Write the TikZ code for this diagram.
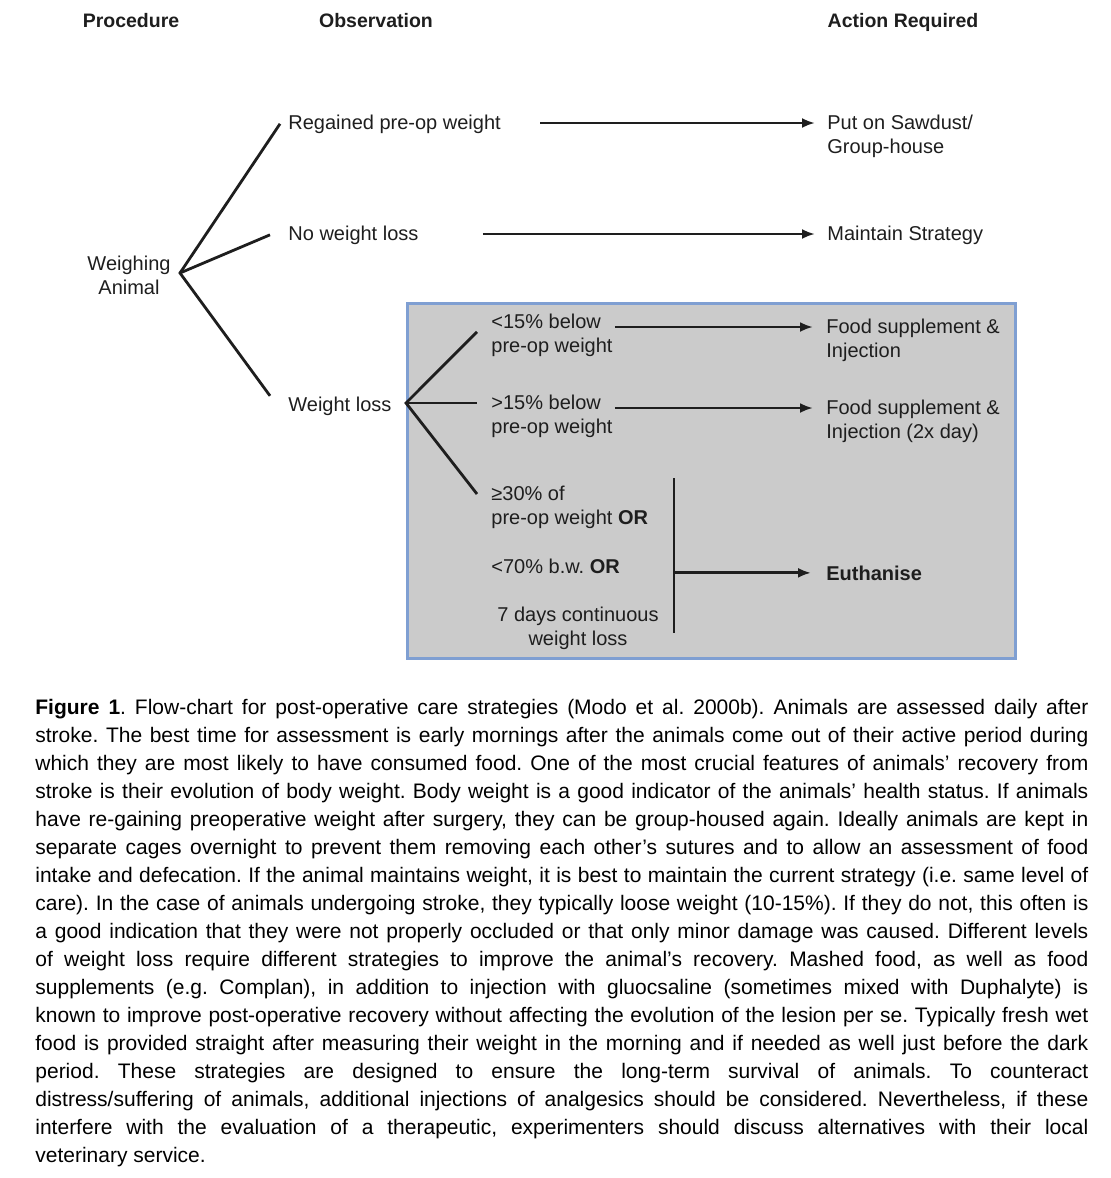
\documentclass[tikz,border=0pt]{standalone}
\usepackage{fontspec}
\setmainfont{Liberation Sans}
\usetikzlibrary{arrows.meta,positioning,calc}
\definecolor{boxgray}{HTML}{CBCBCB}
\definecolor{boxblue}{HTML}{7F9FD2}
\definecolor{ink}{HTML}{1E1E1E}
\newcommand{\capline}[1]{\hbox to \hsize{#1}}

\begin{document}
\frenchspacing
\begin{tikzpicture}[x=1pt, y=-1pt, >={Latex[length=13pt,width=10pt]}, line width=2.8pt,
  every node/.style={inner sep=0pt, text=ink, font=\fontsize{20}{24}\selectfont},
  head/.style={font=\fontsize{19.5}{24}\selectfont\bfseries, anchor=base},
  obs/.style={anchor=base west, align=left},
  link/.style={draw=ink},
  arr/.style={draw=ink, ->}]
    \useasboundingbox (0,0) rectangle (1111,1178);

    % shaded box for the weight loss cases
    \fill[black!12] (409,305) rectangle (1017,660);
    \node[draw=boxblue, line width=2.5pt, fill=boxgray, anchor=north west,
          minimum width=608pt, minimum height=355pt] (lossbox) at (406,302) {};

    \node[head] (proc) at (131,27) {Procedure};
    \node[head] (obsv) at (376,27) {Observation};
    \node[head] (act) at (903,27) {Action Required};

    % multi-line nodes sit on the baseline of their last line
    \node[align=center, anchor=base] (weigh) at (129,294) {Weighing\\Animal};

    \node[obs] (regain) at (287,129) {Regained pre-op weight};
    \node[obs] (nochange) at (287,240) {No weight loss};
    \node[obs] (loss) at (287,411) {Weight loss};

    \node[obs] (sawdust) at (826,153) {Put on Sawdust/\\Group-house};
    \node[obs] (maintain) at (826,240) {Maintain Strategy};

    \node[obs] (lt15) at (490,352) {<15\% below\\pre-op weight};
    \node[obs] (gt15) at (490,433) {>15\% below\\pre-op weight};
    \node[obs] (ge30) at (490,524) {≥30\% of\\pre-op weight \textbf{OR}};
    \node[obs] (lt70) at (490,573) {<70\% b.w. \textbf{OR}};
    \node[align=center, anchor=base] (days) at (578,645) {7 days continuous\\weight loss};

    \node[obs] (food1) at (825,357) {Food supplement \&\\Injection};
    \node[obs] (food2) at (825,438) {Food supplement \&\\Injection (2x day)};
    \node[obs, font=\fontsize{20}{24}\selectfont\bfseries] (euth) at (825,580) {Euthanise};

    % first fork
    \coordinate (fork) at (180,273);
    \draw[link] ([xshift=-7pt]regain.west) -- (fork) -- ([xshift=-17pt,yshift=10pt]loss.west);
    \draw[link] (fork) -- ([xshift=-17pt]nochange.west);

    % second fork
    \coordinate (subfork) at (406,403);
    \draw[link] ([xshift=-13pt,yshift=3pt]lt15.west) -- (subfork) -- ([xshift=-13pt,yshift=30pt]ge30.base west);
    \draw[link] (subfork) -- ([xshift=-13pt,yshift=30pt]gt15.base west);

    \draw[arr] ($(regain.base east)+(38,-6)$) -- ($(regain.base east -| sawdust.west)+(-11,-6)$);
    \draw[arr] ($(nochange.base east)+(63,-6)$) -- ($(nochange.base east -| maintain.west)+(-11,-6)$);
    \draw[arr] ($(lt15.base east)+(1,-25)$) -- ($(lt15.base east -| food1.west)+(-12,-25)$);
    \draw[arr] ($(gt15.base east)+(1,-25)$) -- ($(gt15.base east -| food2.west)+(-12,-25)$);

    \coordinate (bartop) at (674,478);
    \coordinate (barbot) at (674,633);
    \draw[link] (bartop) -- (barbot);
    \draw[arr] (euth.west -| bartop) -- ($(euth.west)+(-14,0)$);

    % caption
    \node[anchor=base west, font=\fontsize{21}{28}\selectfont, text=black] (caption) at (34,714) {\vtop{\hsize=1053pt
      \capline{\textbf{Figure 1}. Flow-chart for post-operative care strategies (Modo et al. 2000b). Animals are assessed daily after}
      \capline{stroke. The best time for assessment is early mornings after the animals come out of their active period during}
      \capline{which they are most likely to have consumed food. One of the most crucial features of animals’ recovery from}
      \capline{stroke is their evolution of body weight. Body weight is a good indicator of the animals’ health status. If animals}
      \capline{have re-gaining preoperative weight after surgery, they can be group-housed again. Ideally animals are kept in}
      \capline{separate cages overnight to prevent them removing each other’s sutures and to allow an assessment of food}
      \capline{intake and defecation. If the animal maintains weight, it is best to maintain the current strategy (i.e. same level of}
      \capline{care). In the case of animals undergoing stroke, they typically loose weight (10-15\%). If they do not, this often is}
      \capline{a good indication that they were not properly occluded or that only minor damage was caused. Different levels}
      \capline{of weight loss require different strategies to improve the animal’s recovery. Mashed food, as well as food}
      \capline{supplements (e.g. Complan), in addition to injection with gluocsaline (sometimes mixed with Duphalyte) is}
      \capline{known to improve post-operative recovery without affecting the evolution of the lesion per se. Typically fresh wet}
      \capline{food is provided straight after measuring their weight in the morning and if needed as well just before the dark}
      \capline{period. These strategies are designed to ensure the long-term survival of animals. To counteract}
      \capline{distress/suffering of animals, additional injections of analgesics should be considered. Nevertheless, if these}
      \capline{interfere with the evaluation of a therapeutic, experimenters should discuss alternatives with their local}
      \hbox{veterinary service.}}};
\end{tikzpicture}
\end{document}
